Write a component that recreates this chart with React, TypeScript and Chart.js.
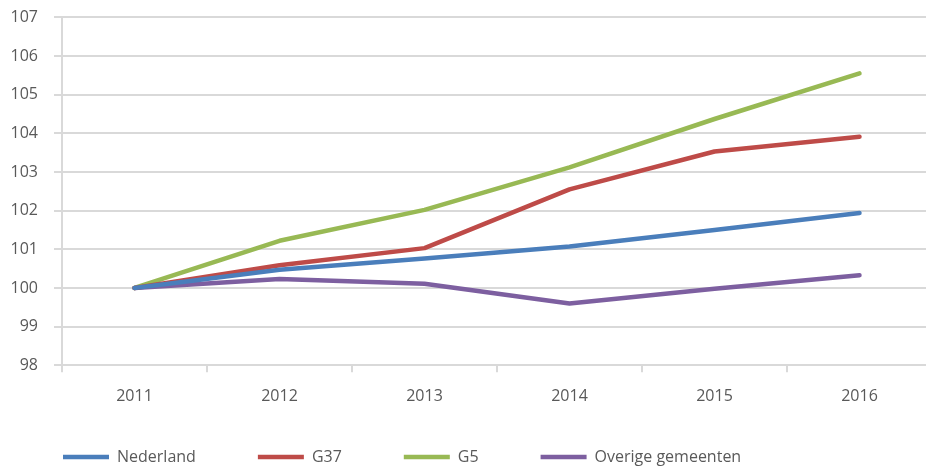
import React, { useEffect, useRef } from "react";
import { Chart, registerables } from "chart.js";

Chart.register(...registerables);

const categories = ["2011", "2012", "2013", "2014", "2015", "2016"];
const nederland = [100, 100.47, 100.76, 101.07, 101.5, 101.94];
const g37 = [100, 100.59, 101.03, 102.55, 103.53, 103.91];
const g5 = [100, 101.22, 102.02, 103.12, 104.37, 105.55];
const overige = [100, 100.23, 100.11, 99.6, 99.98, 100.33];
const seriesNames = ["Nederland", "G37", "G5", "Overige gemeenten"];
const seriesColors = ["#4a7ebb", "#be4b48", "#98b954", "#7d5fa0"];
const yMin = 98;
const yMax = 107;

const labelRoom = {
  id: "labelRoom",
  afterLayout(chart: any) {
    const x = chart.scales.x;
    if (x) x.bottom = x.top + 48;
  },
};

export default function App() {
  const ref = useRef<HTMLCanvasElement | null>(null);
  useEffect(() => {
    if (!ref.current) return;
    const values = [nederland, g37, g5, overige];
    const chart = new Chart(ref.current, {
      type: "line",
      plugins: [labelRoom],
      data: {
        labels: categories,
        datasets: values.map((v, i) => ({
          label: seriesNames[i],
          data: v,
          borderColor: seriesColors[i],
          backgroundColor: seriesColors[i],
          borderWidth: 4.5,
          borderCapStyle: "round" as const,
          borderJoinStyle: "round" as const,
          pointRadius: 0,
          tension: 0,
          fill: false,
        })),
      },
      options: {
        animation: false,
        responsive: false,
        devicePixelRatio: 1,
        layout: { padding: { left: 1, right: 8, top: 17.3, bottom: 5 } },
        plugins: {
          tooltip: { enabled: false },
          legend: {
            position: "bottom",
            align: "start",
            labels: {
              usePointStyle: true,
              pointStyle: "line",
              pointStyleWidth: 46,
              boxWidth: 46,
              padding: 62,
              color: "#595959",
              font: { family: "'Open Sans', sans-serif", size: 16 },
            },
          },
        },
        scales: {
          x: {
            offset: true,
            afterFit: (s: any) => {
              s.height = 21.7;
            },
            grid: {
              offset: true,
              drawOnChartArea: false,
              drawTicks: true,
              tickLength: 7,
              color: "#d9d9d9",
              lineWidth: 2,
            },
            border: { display: false },
            ticks: {
              color: "#595959",
              padding: 15,
              font: { family: "'Open Sans', sans-serif", size: 16 },
              maxRotation: 0,
            },
          },
          y: {
            min: yMin,
            max: yMax,
            afterFit: (s: any) => {
              s.width = 61;
              s.paddingTop = 0;
              s.paddingBottom = 0;
            },
            grid: {
              color: "#d9d9d9",
              lineWidth: 2,
              tickLength: 8,
            },
            border: { display: true, color: "#d9d9d9", width: 2 },
            ticks: {
              stepSize: 1,
              color: "#595959",
              padding: 16,
              font: { family: "'Open Sans', sans-serif", size: 16 },
            },
          },
        },
      },
    });
    return () => chart.destroy();
  }, []);
  return (
    <div
      style={{
        position: "fixed",
        left: 0,
        top: 0,
        width: 926,
        height: 470,
        overflow: "hidden",
        background: "#ffffff",
      }}
    >
      <canvas ref={ref} width={940} height={480} style={{ display: "block" }} />
    </div>
  );
}
